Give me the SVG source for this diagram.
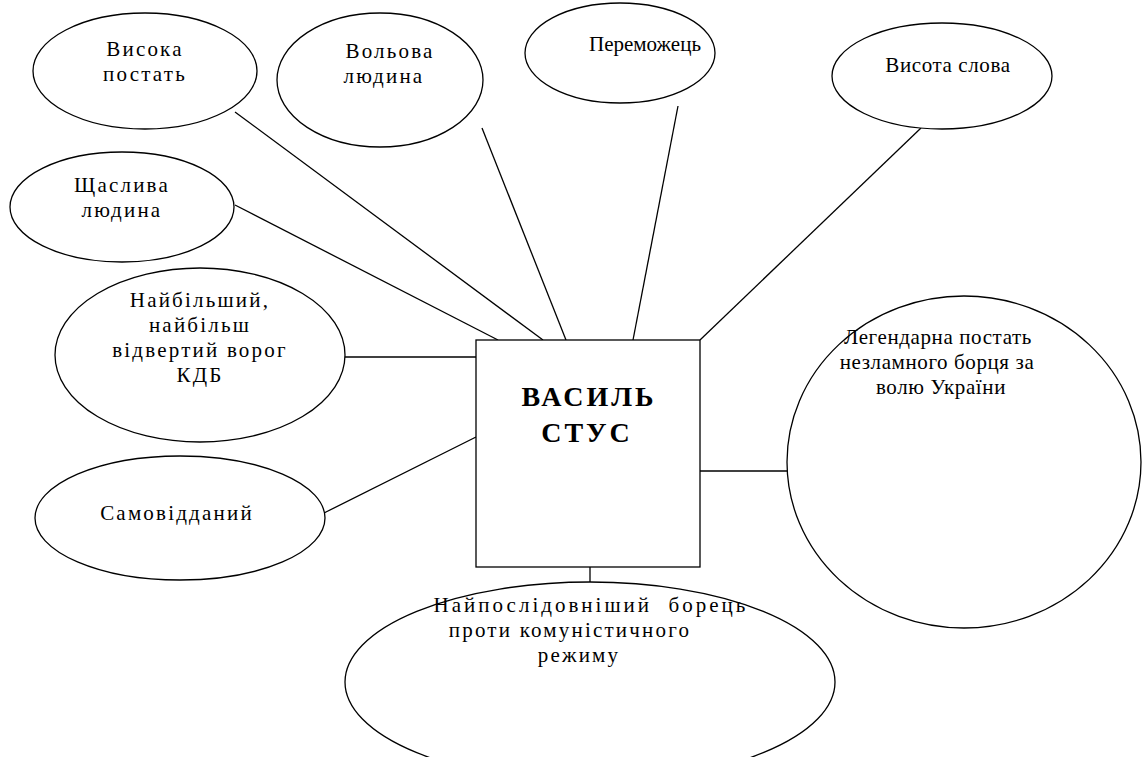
<svg xmlns="http://www.w3.org/2000/svg" width="1144" height="757" viewBox="0 0 1144 757">
<style>
.n{fill:#fff;stroke:#000;stroke-width:1.3}
.t{font-family:"Liberation Serif","Times New Roman",serif;font-size:21px;fill:#000;text-anchor:middle}
.w{letter-spacing:2.2px}
.k{letter-spacing:0.6px}
.b{font-weight:bold;font-size:28px;letter-spacing:3px}
.c line{stroke:#000;stroke-width:1.3}
</style>
<rect width="1144" height="757" fill="#fff"/>
<g class="c" id="connectors">
<line x1="235" y1="112" x2="543" y2="340"/>
<line x1="235" y1="205" x2="498" y2="340"/>
<line x1="482" y1="128" x2="566" y2="340"/>
<line x1="678" y1="106" x2="633" y2="340"/>
<line x1="921" y1="128" x2="700" y2="340"/>
<line x1="345" y1="357" x2="476" y2="357"/>
<line x1="324" y1="513" x2="476" y2="437"/>
<line x1="700" y1="471" x2="787" y2="471"/>
<line x1="590" y1="567" x2="590" y2="582"/>
</g>
<g id="n-vysoka"><ellipse class="n" cx="145" cy="71" rx="112" ry="58"/><text class="t w" x="145" y="56">Висока</text><text class="t w" x="145" y="81">постать</text></g>
<g id="n-volova"><ellipse class="n" cx="380" cy="80" rx="103" ry="67"/><text class="t w" x="390" y="58">Вольова</text><text class="t w" x="384" y="83">людина</text></g>
<g id="n-peremozhets"><ellipse class="n" cx="620" cy="53" rx="95" ry="50"/><text class="t" x="645" y="51">Переможець</text></g>
<g id="n-vysota"><ellipse class="n" cx="942" cy="76" rx="110" ry="53"/><text class="t k" x="948" y="72">Висота слова</text></g>
<g id="n-shchasl"><ellipse class="n" cx="122" cy="207" rx="112" ry="55"/><text class="t w" x="122" y="192">Щаслива</text><text class="t w" x="122" y="217">людина</text></g>
<g id="n-naib"><ellipse class="n" cx="200" cy="355" rx="145" ry="87"/><text class="t w" x="200" y="307">Найбільший,</text><text class="t w" x="200" y="332">найбільш</text><text class="t w" x="200" y="357">відвертий ворог</text><text class="t w" x="200" y="382">КДБ</text></g>
<g id="n-samov"><ellipse class="n" cx="180" cy="518" rx="145" ry="62"/><text class="t w" x="177" y="520">Самовідданий</text></g>
<g id="n-center"><rect class="n" x="476" y="340" width="224" height="227"/><text class="t b" x="589" y="406">ВАСИЛЬ</text><text class="t b" x="587" y="442">СТУС</text></g>
<g id="n-legend"><ellipse class="n" cx="964" cy="462" rx="177" ry="166"/><text class="t k" x="938" y="344">Легендарна постать</text><text class="t k" x="937" y="369">незламного борця за</text><text class="t k" x="941" y="394">волю України</text></g>
<g id="n-bottom"><ellipse class="n" cx="590" cy="682" rx="245" ry="100"/><text class="t" x="591" y="612" style="letter-spacing:3px" xml:space="preserve">Найпослідовніший  борець</text><text class="t w" x="570" y="637">проти комуністичного</text><text class="t w" x="579" y="662">режиму</text></g>
</svg>
